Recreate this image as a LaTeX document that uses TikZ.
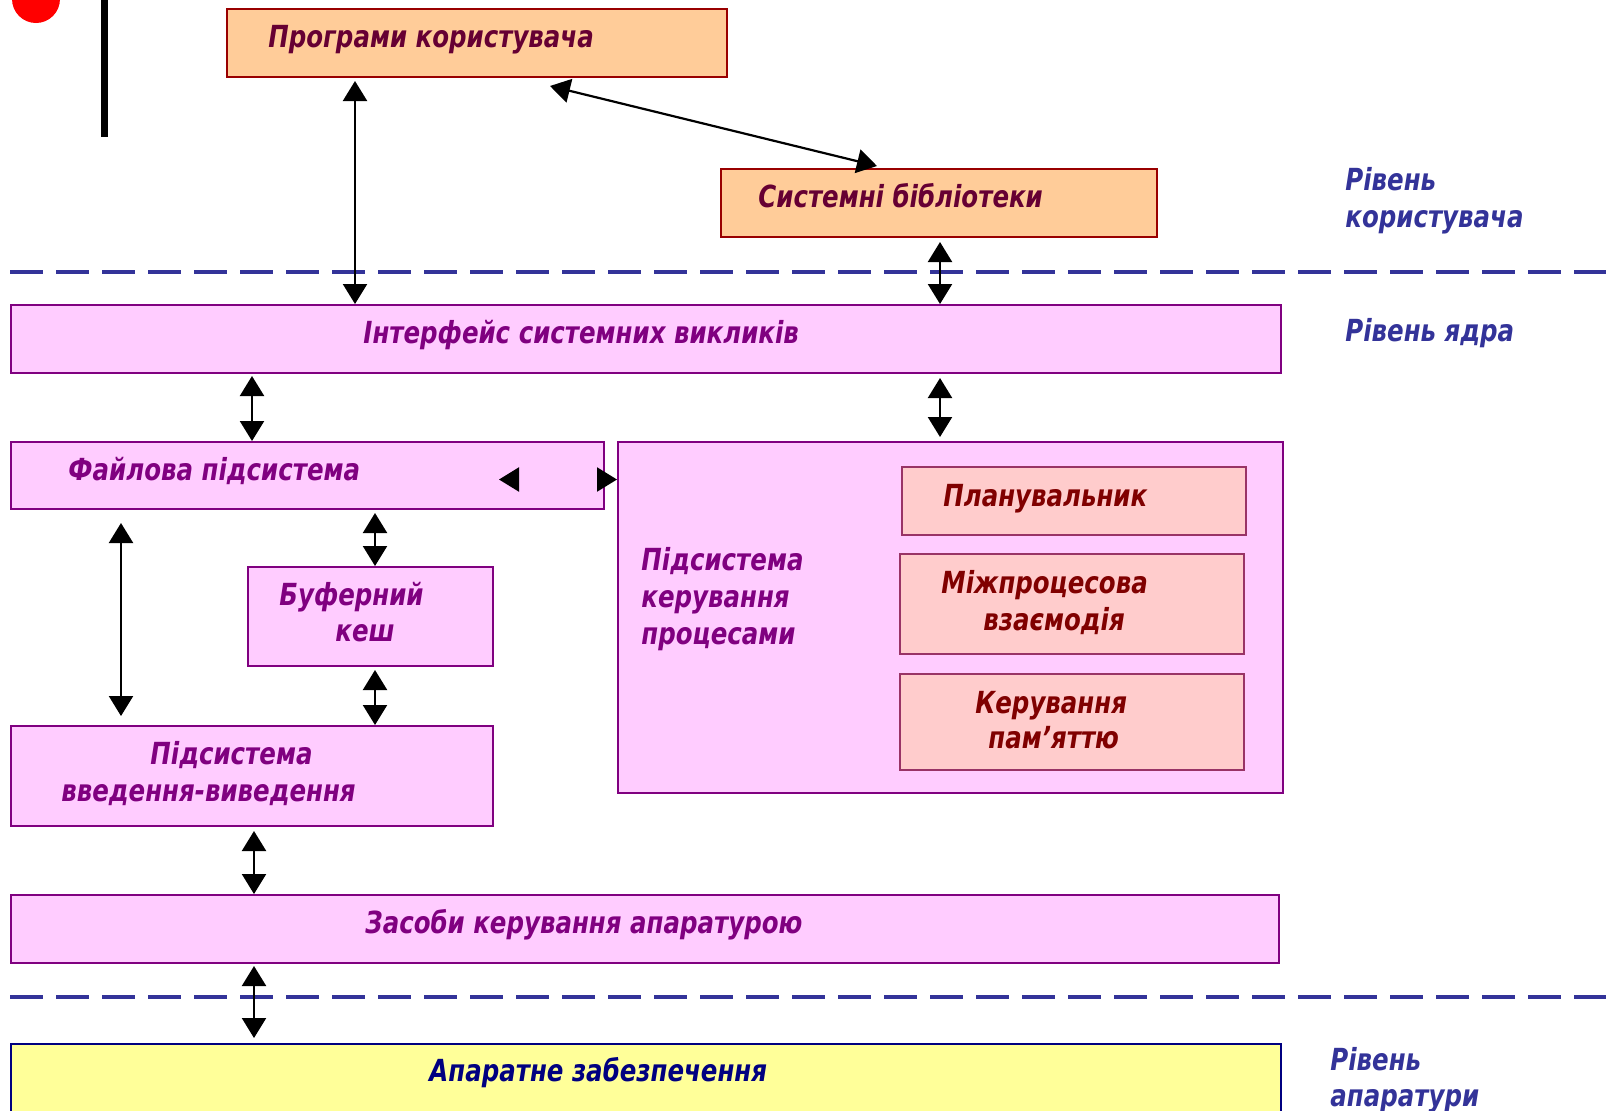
\documentclass[tikz,border=0pt]{standalone}
\usepackage{fontspec}
\setmainfont{DejaVu Sans}[FakeStretch=0.805]
\usetikzlibrary{arrows.meta,fit,calc}
\definecolor{peach}{HTML}{FFCC99}
\definecolor{peachbd}{HTML}{990000}
\definecolor{maroon}{HTML}{660033}
\definecolor{kpink}{HTML}{FFCCFF}
\definecolor{kpurple}{HTML}{800080}
\definecolor{rose}{HTML}{FFCCCC}
\definecolor{rosebd}{HTML}{993366}
\definecolor{dred}{HTML}{800000}
\definecolor{hwy}{HTML}{FFFF99}
\definecolor{navy}{HTML}{000080}
\definecolor{lvl}{HTML}{333399}
\begin{document}
\begin{tikzpicture}[x=0.5pt,y=-0.5pt,
  boxbase/.style={rectangle, inner sep=0pt, line width=1pt},
  userbox/.style={boxbase, draw=peachbd, fill=peach},
  kernbox/.style={boxbase, draw=kpurple, fill=kpink},
  innerbox/.style={boxbase, draw=rosebd, fill=rose},
  hwbox/.style={boxbase, draw=navy, fill=hwy},
  txt/.style={font=\fontsize{15.2}{18.5}\selectfont\bfseries\itshape, inner sep=0pt, anchor=base west},
  utxt/.style={txt, text=maroon},
  ktxt/.style={txt, text=kpurple},
  itxt/.style={txt, text=dred},
  htxt/.style={txt, text=navy},
  ltxt/.style={txt, text=lvl},
  dbl/.style={{Triangle[length=10pt,width=12pt]}-{Triangle[length=10pt,width=12pt]}, line width=1.1pt, black},
  sep/.style={draw=lvl, line width=2pt, dash pattern=on 16.5pt off 6.5pt}
]
\useasboundingbox (0,0) rectangle (1606,1110);

% decoration top-left
\fill[red] (36,-1) circle[radius=24];
\draw[line width=3.5pt] (104.5,0) -- (104.5,137);

% separators
\draw[sep] (10,272) -- (1606,272);
\draw[sep] (10,997) -- (1606,997);

% boxes
\node[userbox, fit={(227,9)(727,77)}] (prog) {};
\node[userbox, fit={(721,169)(1157,237)}] (lib) {};
\node[kernbox, fit={(11,305)(1281,373)}] (iface) {};
\node[kernbox, fit={(11,442)(604,509)}] (file) {};
\node[kernbox, fit={(618,442)(1283,793)}] (proc) {};
\node[innerbox, fit={(902,467)(1246,535)}] (sched) {};
\node[innerbox, fit={(900,554)(1244,654)}] (ipc) {};
\node[innerbox, fit={(900,674)(1244,770)}] (mem) {};
\node[kernbox, fit={(248,567)(493,666)}] (buf) {};
\node[kernbox, fit={(11,726)(493,826)}] (io) {};
\node[kernbox, fit={(11,895)(1279,963)}] (hwc) {};
\node[hwbox, fit={(11,1044)(1281,1125)}] (hw) {};

% texts
\node[utxt] (progt) at (268,47) {Програми користувача};
\node[utxt] (libt) at (758,207) {Системні бібліотеки};
\node[ktxt] (ifacet) at (363,343) {Інтерфейс системних викликів};
\node[ktxt] (filet) at (68,480) {Файлова підсистема};
\node[ktxt] (buft1) at (279,605) {Буферний};
\node[ktxt] (buft2) at (335,641) {кеш};
\node[ktxt] (iot1) at (150,764) {Підсистема};
\node[ktxt] (iot2) at (61,801) {введення-виведення};
\node[ktxt] (hwct) at (365,933) {Засоби керування апаратурою};
\node[htxt] (hwt) at (429,1081) {Апаратне забезпечення};
\node[ktxt] (proct1) at (641,570) {Підсистема};
\node[ktxt] (proct2) at (641,607) {керування};
\node[ktxt] (proct3) at (641,644) {процесами};
\node[itxt] (schedt) at (943,506) {Планувальник};
\node[itxt] (ipct1) at (941,593) {Міжпроцесова};
\node[itxt] (ipct2) at (983,630) {взаємодія};
\node[itxt] (memt1) at (975,713) {Керування};
\node[itxt] (memt2) at (988,748) {пам’яттю};
\node[ltxt] (lvu1) at (1345,190) {Рівень};
\node[ltxt] (lvu2) at (1345,227) {користувача};
\node[ltxt] (lvk) at (1345,341) {Рівень ядра};
\node[ltxt] (lvh1) at (1330,1070) {Рівень};
\node[ltxt] (lvh2) at (1330,1106) {апаратури};

% arrow x positions
\coordinate (xa) at (355,0);
\coordinate (xb) at (940,0);
\coordinate (xc) at (252,0);
\coordinate (xd) at (375,0);
\coordinate (xe) at (121,0);
\coordinate (xf) at (254,0);

% connectors
\draw[dbl] (xa |- prog.south) ++(0,3) -- (xa |- iface.north);
\draw[dbl] ([shift={(324,8)}]prog.south west) -- ([shift={(157,-2)}]lib.north west);
\draw[dbl] (xb |- lib.south) ++(0,4) -- (xb |- iface.north);
\draw[dbl] (xc |- iface.south) ++(0,2) -- (xc |- file.north);
\draw[dbl] (xb |- iface.south) ++(0,4) -- ([yshift=2pt]xb |- proc.north);
\draw[dbl] (xd |- file.south) ++(0,3) -- (xd |- buf.north);
\draw[dbl] (xd |- buf.south) ++(0,3) -- (xd |- io.north);
\draw[dbl, shorten <=6.5pt, shorten >=4.5pt] (xe |- file.south) -- (xe |- io.north);
\draw[dbl] (xf |- io.south) ++(0,4) -- (xf |- hwc.north);
\draw[dbl] (xf |- hwc.south) ++(0,2) -- ([yshift=2.5pt]xf |- hw.north);
\coordinate (fp) at ([shift={(-106,4)}]file.east);
\draw[{Triangle[length=10pt,width=12pt,color=black]}-{Triangle[length=10pt,width=12pt,color=black]}, line width=1.1pt, draw=kpink] (fp) -- (fp -| proc.west);
\end{tikzpicture}
\end{document}
